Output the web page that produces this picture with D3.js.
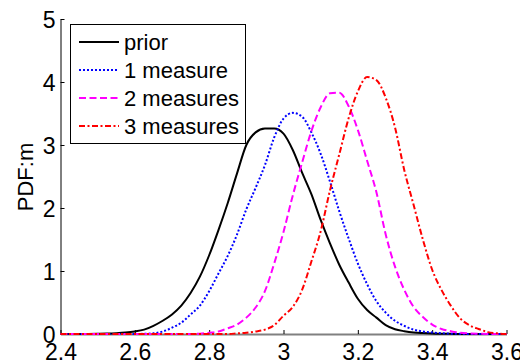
<!doctype html>
<html>
<head>
<title>PDF:m</title>
<script src="https://d3js.org/d3.v7.min.js"></script>
<style>
  body { margin: 0; background: #fff; }
  svg { display: block; font-family: "Liberation Sans", Arial, sans-serif; }
</style>
</head>
<body>
<script>

// x grid shared by all curves
var xs = [2.400, 2.425, 2.450, 2.475, 2.500, 2.525, 2.550, 2.575, 2.600, 2.625,
          2.650, 2.675, 2.700, 2.725, 2.750, 2.775, 2.800, 2.825, 2.850, 2.875,
          2.900, 2.925, 2.950, 2.975, 3.000, 3.025, 3.050, 3.075, 3.100, 3.125,
          3.150, 3.175, 3.200, 3.225, 3.250, 3.275, 3.300, 3.325, 3.350, 3.375,
          3.400, 3.425, 3.450, 3.475, 3.500, 3.525, 3.550, 3.575, 3.600];

var prior = [0, 0, 0, 0.001, 0.003, 0.006, 0.012, 0.022, 0.04, 0.07,
             0.13, 0.21, 0.31, 0.45, 0.65, 0.91, 1.25, 1.65, 2.08, 2.55,
             3.00, 3.20, 3.26, 3.26, 3.18, 2.92, 2.56, 2.22, 1.81, 1.44,
             1.10, 0.82, 0.56, 0.38, 0.26, 0.14, 0.075, 0.045, 0.025, 0.015,
             0.008, 0.004, 0.002, 0.001, 0, 0, 0, 0, 0];

var meas1 = [0, 0, 0, 0, 0, 0, 0, 0, 0.001, 0.003,
             0.01, 0.04, 0.10, 0.18, 0.31, 0.45, 0.68, 0.96, 1.24, 1.58,
             1.98, 2.32, 2.68, 3.12, 3.42, 3.51, 3.45, 3.20, 2.86, 2.42,
             1.95, 1.52, 1.12, 0.79, 0.52, 0.34, 0.21, 0.13, 0.07, 0.04,
             0.025, 0.012, 0.005, 0.002, 0, 0, 0, 0, 0];

var meas2 = [0, 0, 0, 0, 0, 0, 0, 0, 0, 0,
             0, 0, 0, 0, 0, 0.005, 0.02, 0.04, 0.09, 0.15,
             0.26, 0.42, 0.68, 1.12, 1.62, 2.20, 2.72, 3.22, 3.60, 3.82,
             3.83, 3.62, 3.24, 2.75, 2.25, 1.58, 1.07, 0.70, 0.43, 0.27,
             0.15, 0.08, 0.045, 0.02, 0.01, 0.004, 0, 0, 0];

var meas3 = [0, 0, 0, 0, 0, 0, 0, 0, 0, 0,
             0, 0, 0, 0, 0, 0, 0, 0, 0, 0.01,
             0.02, 0.04, 0.07, 0.14, 0.29, 0.43, 0.70, 1.15, 1.63, 2.28,
             2.85, 3.42, 3.85, 4.08, 4.03, 3.75, 3.28, 2.60, 2.05, 1.50,
             1.02, 0.70, 0.45, 0.25, 0.14, 0.08, 0.03, 0.01, 0];

var names = ["prior", "1 measure", "2 measures", "3 measures"];
var xticks = [2.4, 2.6, 2.8, 3, 3.2, 3.4, 3.6];
var yticks = [0, 1, 2, 3, 4, 5];

var series = [
  {name: names[0], values: prior, color: "#000000", dash: null},
  {name: names[1], values: meas1, color: "#0000ff", dash: "2,2"},
  {name: names[2], values: meas2, color: "#ff00ff", dash: "7,3.5"},
  {name: names[3], values: meas3, color: "#ff0000", dash: "6,2.5,2,2.5"}
];

var W = 520, H = 362;
var svg = d3.select("body").append("svg").attr("width", W).attr("height", H);

var x = d3.scaleLinear().domain([2.4, 3.6]).range([60.5, 506.5]);
var y = d3.scaleLinear().domain([0, 5]).range([334, 19]);

// axes, ticks pointing inward like matlab
var xaxis = d3.axisBottom(x).tickValues(xticks).tickSize(-4).tickSizeOuter(0)
  .tickFormat(d3.format("~g"));
var gx = svg.append("g").attr("transform", "translate(0,334)").call(xaxis);
gx.select(".domain").attr("stroke", "#808080").attr("stroke-width", 2);
gx.selectAll(".tick line").attr("stroke", "#000");
gx.selectAll(".tick text").attr("y", 25.5).attr("dy", null)
  .style("font-size", "23px").attr("fill", "#000");

var yaxis = d3.axisLeft(y).tickValues(yticks).tickSize(-4).tickSizeOuter(0)
  .tickFormat(d3.format("~g"));
var gy = svg.append("g").attr("transform", "translate(60.5,0)").call(yaxis);
gy.select(".domain").attr("stroke", "#000");
gy.selectAll(".tick text").attr("x", -5).attr("dy", "0.36em")
  .style("font-size", "23px").attr("fill", "#000");
gx.selectAll("text").attr("font-family", null);
gy.selectAll("text").attr("font-family", null);

svg.append("text")
  .attr("transform", "translate(33,177) rotate(-90)")
  .attr("text-anchor", "middle")
  .style("font-size", "22px")
  .text("PDF:m");

// curves
var line = d3.line()
  .x(function(d) { return x(d[0]); })
  .y(function(d) { return y(d[1]); })
  .curve(d3.curveMonotoneX);

series.forEach(function(s) {
  var pts = xs.map(function(v, i) { return [v, s.values[i]]; });
  svg.append("path")
    .datum(pts)
    .attr("d", line)
    .attr("fill", "none")
    .attr("stroke", s.color)
    .attr("stroke-width", 2)
    .attr("stroke-dasharray", s.dash);
});

// legend
var lg = svg.append("g");
lg.append("rect")
  .attr("x", 70.5).attr("y", 24.5)
  .attr("width", 175).attr("height", 119)
  .attr("fill", "#fff").attr("stroke", "#000").attr("stroke-width", 1);

series.forEach(function(s, i) {
  var ly = 42 + i * 28;
  lg.append("line")
    .attr("x1", 79).attr("x2", 119).attr("y1", ly).attr("y2", ly)
    .attr("stroke", s.color).attr("stroke-width", 2)
    .attr("stroke-dasharray", s.dash);
  lg.append("text")
    .attr("x", 124).attr("y", ly + 7.5)
    .style("font-size", "22px")
    .text(s.name);
});

</script>
</body>
</html>
